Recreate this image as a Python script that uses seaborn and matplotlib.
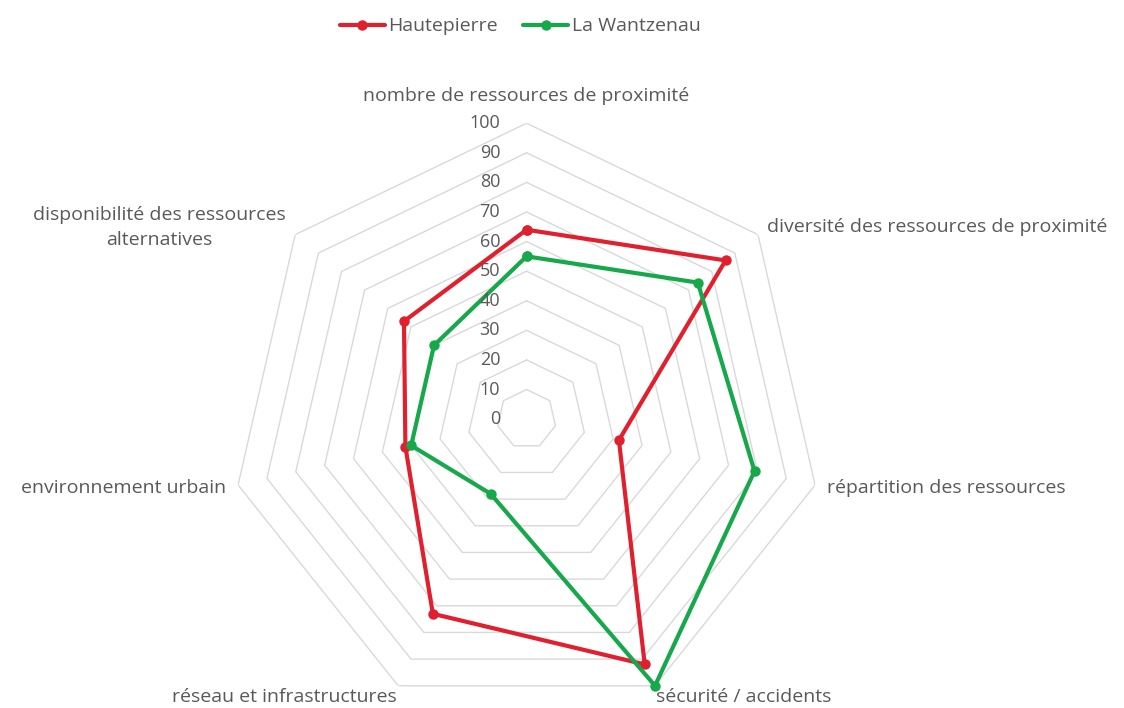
import numpy as np
import pandas as pd
import seaborn as sns
import matplotlib.pyplot as plt

categories = ['nombre de ressources de proximité',
              'diversité des ressources de proximité',
              'répartition des ressources',
              'sécurité / accidents',
              'réseau et infrastructures',
              'environnement urbain',
              'disponibilité des ressources\nalternatives']
hautepierre = [64, 86, 32, 92, 73, 42, 53]
wantzenau = [55, 74, 79, 100, 28, 40, 40]
levels = list(range(0, 101, 10))

sns.set_style('white')
plt.rcParams['font.family'] = ['Open Sans', 'DejaVu Sans']
plt.rcParams['text.color'] = '#595959'

n = len(categories)
theta = np.linspace(0, 2 * np.pi, n, endpoint=False)
theta_closed = np.append(theta, theta[0])

rows = []
for name, vals in [('Hautepierre', hautepierre), ('La Wantzenau', wantzenau)]:
    for t, v in zip(theta_closed, vals + vals[:1]):
        rows.append({'theta': t, 'value': v, 'zone': name})
df = pd.DataFrame(rows)

fig = plt.figure(figsize=(11.24, 7.08), dpi=100)
ax = fig.add_axes([0.205, -0.010, 0.527, 0.836], projection='polar')
ax.set_theta_zero_location('N')
ax.set_theta_direction(-1)
ax.set_ylim(0, 100)
ax.grid(False)
ax.spines['polar'].set_visible(False)
ax.set_xticks([])
ax.set_yticks([])

# heptagon grid
for lv in levels[1:]:
    ax.plot(theta_closed, [lv] * (n + 1), color='#d9d9d9', lw=1, zorder=0)

sns.lineplot(data=df, x='theta', y='value', hue='zone', sort=False, estimator=None,
             palette={'Hautepierre': '#e0202e', 'La Wantzenau': '#17a84b'},
             marker='o', markersize=7.5, markeredgewidth=0, linewidth=3.0,
             clip_on=False, ax=ax)
ax.set_xlabel('')
ax.set_ylabel('')

# radial tick labels
for lv in levels:
    ax.annotate(str(lv), (0, lv), xytext=(-19, 0), textcoords='offset points',
                ha='right', va='center', fontsize=13, color='#595959')

# category labels
label_pos = [(106, 'center', 'bottom'), (104, 'left', 'center'), (104, 'left', 'center'),
             (101, 'left', 'top'), (101, 'right', 'top'), (104, 'right', 'center'),
             (104, 'right', 'center')]
for t, lab, (r, ha, va) in zip(theta, categories, label_pos):
    ax.text(t, r, lab, ha=ha, va=va, fontsize=14, color='#595959',
            multialignment='center', linespacing=1.5)

sns.move_legend(ax, 'upper center', bbox_to_anchor=(0.463, 1.0), bbox_transform=fig.transFigure,
                ncol=2, frameon=False, title=None, fontsize=14, handlelength=2.3,
                handletextpad=0.2, columnspacing=1.3)

fig.savefig('out.png', dpi=100)
